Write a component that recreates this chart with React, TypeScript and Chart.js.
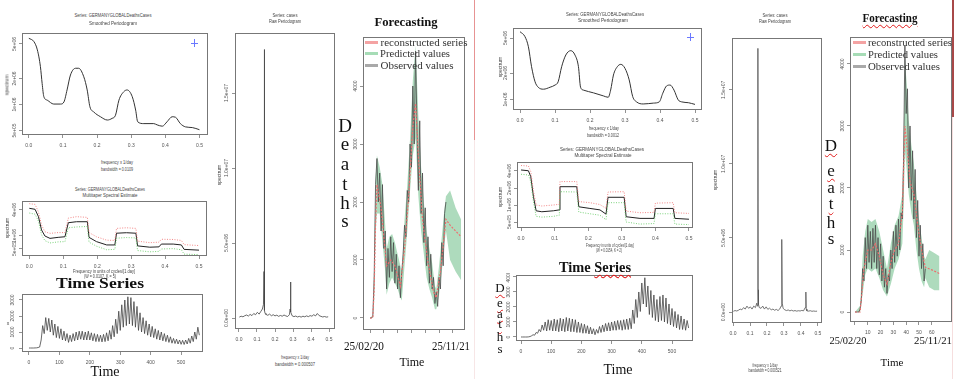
import React, { useEffect, useRef } from "react";
import { Chart, registerables } from "chart.js";
Chart.register(...registerables);

const SANS = '"Liberation Sans", Arial, sans-serif';
const SERIF = '"Liberation Serif", "Times New Roman", serif';

// ---------------- DATA ----------------
// Left smoothed periodogram
const freqA = [0, 0.015, 0.025, 0.034, 0.039, 0.044, 0.054, 0.073, 0.093, 0.103, 0.112, 0.122, 0.137, 0.146, 0.161, 0.171, 0.179, 0.19, 0.21, 0.23, 0.244, 0.254, 0.264, 0.278, 0.288, 0.303, 0.313, 0.319, 0.337, 0.366, 0.376, 0.391, 0.405, 0.42, 0.43, 0.444, 0.459, 0.479, 0.5];
const specA = [5.82e6, 5.32e6, 4.27e6, 2.73e6, 1.75e6, 1.23e6, 1.12e6, 1.01e6, 1.01e6, 1.07e6, 1.47e6, 2.19e6, 2.62e6, 2.62e6, 2.09e6, 1.47e6, 9.4e5, 8.2e5, 7.2e5, 6.6e5, 6.9e5, 7.5e5, 1.12e6, 1.4e6, 1.47e6, 1.23e6, 8.6e5, 6.3e5, 6.0e5, 6.0e5, 5.8e5, 5.6e5, 6.3e5, 7.2e5, 7.1e5, 6.0e5, 5.5e5, 5.4e5, 5.1e5];

// Right smoothed periodogram
const freqF = [0, 0.014, 0.024, 0.033, 0.043, 0.052, 0.067, 0.086, 0.1, 0.109, 0.119, 0.131, 0.145, 0.157, 0.167, 0.173, 0.181, 0.21, 0.238, 0.252, 0.259, 0.267, 0.278, 0.288, 0.3, 0.312, 0.322, 0.333, 0.352, 0.381, 0.398, 0.408, 0.419, 0.429, 0.44, 0.452, 0.462, 0.481, 0.5];
const specF = [5.9e6, 5.2e6, 3.98e6, 2.36e6, 1.59e6, 1.38e6, 1.31e6, 1.38e6, 1.46e6, 1.59e6, 2.36e6, 3.21e6, 3.59e6, 3.21e6, 2.36e6, 1.38e6, 1.28e6, 1.19e6, 1.1e6, 1.06e6, 1.28e6, 1.9e6, 2.36e6, 2.51e6, 2.26e6, 1.67e6, 1.08e6, 9.4e5, 8.9e5, 9.1e5, 9.4e5, 1.18e6, 1.43e6, 1.46e6, 1.28e6, 9.9e5, 9.4e5, 9.2e5, 8.8e5];

// Left multitaper
const freqB = [0, 0.017, 0.027, 0.036, 0.046, 0.061, 0.085, 0.105, 0.115, 0.139, 0.171, 0.176, 0.198, 0.228, 0.252, 0.257, 0.286, 0.314, 0.319, 0.355, 0.382, 0.389, 0.424, 0.448, 0.456, 0.5];
const mtmB = [4.38e6, 4.15e6, 2.8e6, 1.38e6, 1.0e6, 8.8e5, 9.3e5, 9.6e5, 2.03e6, 2.14e6, 2.14e6, 9.3e5, 7.4e5, 6.2e5, 6.2e5, 1.16e6, 1.19e6, 1.16e6, 5.9e5, 5.5e5, 5.6e5, 6.5e5, 6.5e5, 6.2e5, 4.9e5, 4.7e5];
const upB = [5.6e6, 5.4e6, 3.6e6, 1.8e6, 1.25e6, 1.15e6, 1.2e6, 1.2e6, 2.6e6, 2.8e6, 2.7e6, 1.2e6, 9.6e5, 8.0e5, 7.9e5, 1.5e6, 1.55e6, 1.5e6, 7.6e5, 7.0e5, 7.2e5, 8.4e5, 8.3e5, 7.9e5, 6.3e5, 6.0e5];
const loB = [3.4e6, 3.2e6, 2.2e6, 1.07e6, 7.8e5, 6.9e5, 7.3e5, 7.4e5, 1.55e6, 1.62e6, 1.66e6, 7.2e5, 5.8e5, 4.8e5, 4.9e5, 8.9e5, 9.2e5, 9.0e5, 4.6e5, 4.3e5, 4.4e5, 5.0e5, 5.1e5, 4.8e5, 3.8e5, 3.7e5];

// Right multitaper
const freqG = [0, 0.022, 0.029, 0.037, 0.045, 0.062, 0.096, 0.114, 0.116, 0.166, 0.172, 0.205, 0.235, 0.253, 0.259, 0.307, 0.313, 0.354, 0.396, 0.4, 0.453, 0.458, 0.5];
const mtmG = [4.17e6, 4.04e6, 3.17e6, 1.4e6, 7.9e5, 7.6e5, 7.9e5, 8.2e5, 2.11e6, 2.11e6, 9.3e5, 8.7e5, 8.2e5, 6.9e5, 1.37e6, 1.37e6, 6.2e5, 5.8e5, 5.8e5, 8.7e5, 8.7e5, 5.8e5, 5.6e5];
const upG = [5.0e6, 4.9e6, 3.9e6, 1.75e6, 1.0e6, 9.6e5, 1.0e6, 1.03e6, 2.6e6, 2.6e6, 1.15e6, 1.1e6, 1.02e6, 8.7e5, 1.7e6, 1.72e6, 7.8e5, 7.3e5, 7.4e5, 1.08e6, 1.1e6, 7.3e5, 7.1e5];
const loG = [3.5e6, 3.4e6, 2.6e6, 1.15e6, 6.3e5, 6.1e5, 6.3e5, 6.6e5, 1.72e6, 1.7e6, 7.5e5, 7.0e5, 6.6e5, 5.5e5, 1.1e6, 1.1e6, 5.0e5, 4.6e5, 4.7e5, 7.0e5, 7.0e5, 4.6e5, 4.5e5];

// Raw periodograms
const rawFreqL = [0.002, 0.012, 0.022, 0.032, 0.042, 0.052, 0.062, 0.072, 0.082, 0.092, 0.102, 0.112, 0.122, 0.13, 0.136, 0.139, 0.14, 0.141, 0.142, 0.143, 0.145, 0.15, 0.16, 0.17, 0.18, 0.19, 0.2, 0.21, 0.22, 0.23, 0.24, 0.25, 0.26, 0.27, 0.28, 0.284, 0.286, 0.288, 0.295, 0.305, 0.315, 0.325, 0.335, 0.345, 0.355, 0.365, 0.375, 0.385, 0.395, 0.405, 0.415, 0.425, 0.435, 0.445, 0.455, 0.465, 0.475, 0.485, 0.495];
const rawValL = [6e4, 1.2e5, 8e4, 1.5e5, 2e5, 1.3e5, 2.4e5, 1.6e5, 3e5, 2.2e5, 3.8e5, 2.6e5, 4.5e5, 6e5, 9e5, 3.1e6, 8e5, 1.79e7, 1.2e6, 5e5, 3e5, 2.4e5, 1.8e5, 2.6e5, 1.5e5, 2.2e5, 1.4e5, 1.9e5, 1.1e5, 1.7e5, 1.2e5, 2e5, 1.4e5, 1e5, 2.2e5, 6e5, 2.4e6, 4e5, 1.5e5, 9e4, 1.3e5, 7e4, 1.1e5, 6e4, 1.2e5, 8e4, 1.4e5, 9e4, 1.6e5, 1.2e5, 2.2e5, 1.4e5, 3e5, 1.6e5, 1.1e5, 7e4, 1e5, 6e4, 8e4];
const rawFreqR = [0.002, 0.012, 0.022, 0.032, 0.042, 0.052, 0.062, 0.072, 0.082, 0.092, 0.102, 0.112, 0.122, 0.132, 0.14, 0.144, 0.146, 0.147, 0.148, 0.15, 0.155, 0.165, 0.175, 0.185, 0.195, 0.205, 0.215, 0.225, 0.235, 0.245, 0.255, 0.265, 0.275, 0.283, 0.286, 0.288, 0.29, 0.295, 0.305, 0.315, 0.325, 0.335, 0.345, 0.355, 0.365, 0.375, 0.385, 0.395, 0.405, 0.415, 0.425, 0.429, 0.431, 0.435, 0.445, 0.455, 0.465, 0.475, 0.485, 0.495];
const rawValR = [5e4, 1e5, 7e4, 1.2e5, 2e5, 1.5e5, 3e5, 2e5, 4e5, 2.5e5, 3.5e5, 2e5, 4e5, 3e5, 6e5, 4e5, 1.2e6, 1.78e7, 1.5e6, 5e5, 3e5, 2.5e5, 4e5, 2e5, 3.5e5, 1.8e5, 2.6e5, 1.5e5, 2e5, 1.2e5, 1.8e5, 1e5, 2e5, 4e5, 2.2e6, 4.9e6, 6e5, 2.5e5, 1.5e5, 1e5, 1.4e5, 8e4, 1.2e5, 7e4, 1e5, 6e4, 9e4, 7e4, 1.1e5, 8e4, 3e5, 1.35e6, 2e5, 8e4, 6e4, 9e4, 5e4, 7e4, 5e4, 6e4];

// Daily time series, one value every 5 days
const TS_STEP = 5;
const tsL = [0, 0, 0, 0, 5, 10, 30, 60, 500, 1400, 900, 1900, 1100, 1850, 1000, 1750, 800, 1500, 650, 1350, 600, 1200, 500, 1050, 450, 900, 350, 800, 400, 900, 450, 1000, 500, 1050, 550, 1050, 500, 1000, 500, 1050, 500, 950, 450, 900, 400, 850, 400, 800, 380, 850, 400, 950, 450, 1100, 550, 1400, 700, 1800, 900, 2300, 1100, 2700, 1300, 3000, 1400, 3200, 1500, 3150, 1400, 2900, 1300, 2600, 1100, 2200, 1000, 1900, 900, 1700, 800, 1500, 700, 1350, 650, 1200, 550, 1100, 500, 1000, 450, 900, 400, 800, 350, 700, 300, 600, 280, 550, 250, 500, 230, 480, 220, 500, 250, 600, 300, 750, 400, 1000, 550, 1300, 800];
const tsR = [0, 0, 0, 0, 0, 10, 30, 80, 150, 120, 300, 250, 500, 350, 800, 450, 1000, 400, 1150, 450, 1100, 400, 1200, 400, 1150, 350, 1250, 400, 1200, 350, 1300, 400, 1250, 350, 1200, 350, 1150, 300, 1000, 300, 900, 250, 850, 250, 750, 200, 650, 200, 550, 150, 500, 250, 700, 300, 800, 350, 900, 400, 950, 400, 1000, 450, 1050, 450, 1100, 500, 1100, 450, 1150, 500, 1200, 500, 1250, 550, 1800, 900, 2500, 1300, 3000, 1700, 3600, 2200, 3950, 2000, 3400, 1500, 3100, 1300, 2800, 1100, 2500, 1000, 2700, 1100, 2800, 1000, 2600, 900, 2200, 800, 1900, 700, 1700, 600, 1500, 500, 1400, 500, 1200, 450, 1100, 600];

// Forecasting (left)
const obsL = [0, 0, 30, 700, 2300, 2750, 2000, 2500, 1500, 2300, 1200, 1500, 500, 1200, 700, 1400, 800, 1300, 600, 1100, 500, 900, 350, 800, 1100, 1600, 1400, 2200, 2000, 3000, 2600, 4000, 3000, 4600, 3300, 2200, 3400, 1800, 2500, 1300, 1900, 900, 1400, 600, 1100, 500, 700, 250, 450, 200, 700, 500, 1300, 900, 1800, 2000];
const recXL = [0, 2, 3, 4, 5, 8, 12, 15, 18, 22, 25, 28, 31, 33, 35, 38, 42, 46, 48, 51, 55, 58, 62, 66];
const recYL = [0, 0, 500, 1600, 2300, 1900, 900, 1000, 900, 550, 1200, 2100, 3300, 3700, 2800, 1700, 950, 450, 350, 800, 1700, 1600, 1500, 1400];
const predXL = [0, 2, 3, 4, 5, 7, 9, 11, 12, 14, 16, 18, 20, 22, 23, 25, 27, 29, 31, 33, 35, 37, 39, 41, 43, 45, 47, 48, 50, 52, 54, 55, 58, 62, 66];
const predHiL = [0, 50, 900, 2400, 2800, 2600, 2300, 1600, 1200, 1400, 1450, 1300, 1100, 900, 800, 1700, 2300, 3100, 4100, 4700, 3500, 2600, 2000, 1500, 1200, 950, 550, 500, 900, 1400, 1900, 2100, 2200, 1900, 1700];
const predLoL = [0, 0, 300, 1500, 1800, 1800, 1300, 800, 400, 600, 700, 600, 500, 350, 300, 900, 1500, 2200, 2800, 3100, 2100, 1500, 1100, 700, 500, 350, 150, 150, 400, 800, 1300, 1500, 1000, 800, 650];

// Forecasting (right)
const obsR = [0, 0, 0, 0, 50, 200, 700, 500, 1200, 700, 1400, 800, 1300, 700, 1350, 800, 1400, 700, 1200, 600, 1100, 500, 900, 400, 700, 300, 600, 500, 1000, 700, 1300, 800, 1400, 900, 1500, 1000, 1600, 1500, 2500, 4300, 3200, 3600, 2000, 3000, 1800, 2600, 1500, 2300, 1200, 1800, 900, 1400, 700, 1100, 500, 700];
const recXR = [0, 4, 7, 10, 13, 16, 19, 22, 25, 28, 31, 34, 37, 39, 41, 43, 46, 49, 52, 55, 60, 66];
const recYR = [0, 0, 700, 1000, 1000, 1100, 900, 600, 450, 800, 1000, 1100, 1600, 3000, 2600, 2100, 1900, 1400, 1000, 720, 680, 620];
const predXR = [0, 4, 6, 8, 10, 13, 16, 19, 22, 25, 28, 31, 34, 37, 38, 39, 40, 42, 44, 46, 48, 50, 52, 54, 55, 58, 62, 66];
const predHiR = [0, 100, 900, 1300, 1500, 1450, 1500, 1300, 1000, 700, 1100, 1400, 1550, 1900, 2800, 4100, 3800, 3100, 2700, 2400, 1900, 1500, 1200, 900, 850, 1000, 950, 900];
const predLoR = [0, 0, 300, 600, 700, 650, 700, 550, 350, 250, 450, 700, 850, 1100, 1700, 2600, 2400, 1900, 1600, 1400, 1000, 700, 500, 400, 550, 400, 350, 350];

// Ticks
const freqTicks = [0, 0.1, 0.2, 0.3, 0.4, 0.5];
const freqTickLabels = ["0.0", "0.1", "0.2", "0.3", "0.4", "0.5"];
const dayTicks = [0, 100, 200, 300, 400, 500];
const dayTickLabels = ["0", "100", "200", "300", "400", "500"];
const fcTicks = [0, 10, 20, 30, 40, 50, 60];
const fcTickLabelsR = ["", "10", "20", "30", "40", "50", "60"];
const deathTicks4 = [0, 1000, 2000, 3000, 4000];
const deathLabels4 = ["0", "1000", "2000", "3000", "4000"];
const deathTicks3 = [0, 1000, 2000, 3000];
const deathLabels3 = ["0", "1000", "2000", "3000"];
const rawTicks = [0, 5e6, 1e7, 1.5e7];
const rawLabels = ["0.0e+00", "5.0e+06", "1.0e+07", "1.5e+07"];
const smTicksA = [5e5, 1e6, 2e6, 5e6];
const smLabelsA = ["5e+05", "1e+06", "2e+06", "5e+06"];
const smTicksF = [1e6, 2e6, 5e6];
const smLabelsF = ["1e+06", "2e+06", "5e+06"];
const mtTicksB = [5e5, 1e6, 4e6];
const mtLabelsB = ["5e+05", "1e+06", "4e+06"];
const mtTicksG = [5e5, 1e6, 2e6, 4e6];
const mtLabelsG = ["5e+05", "1e+06", "2e+06", "4e+06"];

// ---------------- HELPERS ----------------
const pts = (xs: number[], ys: number[]) => xs.map((x, i) => ({ x, y: ys[i] }));
const idxPts = (ys: number[], step: number) => ys.map((y, i) => ({ x: i * step, y }));

const line = (data: any[], color: string, width = 1, extra: any = {}) => ({
  data,
  borderColor: color,
  borderWidth: width,
  pointRadius: 0,
  fill: false,
  tension: 0,
  ...extra,
});

const band = (hi: any[], lo: any[]) => [
  { data: hi, borderColor: "rgba(0,0,0,0)", borderWidth: 0, pointRadius: 0, fill: "+1", backgroundColor: "rgba(120,195,145,0.6)", order: 5 },
  { data: lo, borderColor: "rgba(0,0,0,0)", borderWidth: 0, pointRadius: 0, fill: false, order: 5 },
];

const YW = 16, XH = 16, TP = 2, RP = 4;

const boxPlugin = {
  id: "rbox",
  afterDraw(chart: any, _a: any, opts: any) {
    const { ctx, chartArea: a } = chart;
    ctx.save();
    ctx.strokeStyle = "#777";
    ctx.lineWidth = 1;
    ctx.strokeRect(Math.round(a.left) + 0.5, Math.round(a.top) + 0.5, Math.round(a.right - a.left) - 1, Math.round(a.bottom - a.top) - 1);
    const ys = chart.scales.y;
    const labels: string[] = opts.yLabels || [];
    ctx.fillStyle = "#555";
    ctx.font = `5px ${SANS}`;
    ctx.textAlign = "center";
    ctx.textBaseline = "bottom";
    ys.ticks.forEach((t: any, i: number) => {
      const py = ys.getPixelForValue(t.value);
      ctx.save();
      ctx.translate(a.left - (opts.yOff ?? 5), py);
      ctx.rotate(-Math.PI / 2);
      ctx.fillText(labels[i] ?? "", 0, 0);
      ctx.restore();
    });
    ctx.restore();
  },
};

type PanelDef = {
  box: [number, number, number, number];
  x: { min: number; max: number; ticks: number[]; labels: string[] | null };
  y: { type?: string; min: number; max: number; ticks: number[]; labels: string[] };
  yOff?: number;
  datasets: any[];
};

function ChartPanel({ def }: { def: PanelDef }) {
  const ref = useRef<HTMLCanvasElement | null>(null);
  const [l, t, r, b] = def.box;
  const W = r - l + YW + RP;
  const H = b - t + TP + XH;
  useEffect(() => {
    const xs = def.x, ys = def.y;
    const chart = new Chart(ref.current as HTMLCanvasElement, {
      type: "line",
      data: { datasets: def.datasets },
      options: {
        animation: false,
        responsive: false,
        devicePixelRatio: 1,
        events: [],
        layout: { padding: { left: 0, top: TP, right: RP, bottom: 0 } },
        plugins: {
          legend: { display: false },
          tooltip: { enabled: false },
          rbox: { yLabels: ys.labels, yOff: def.yOff ?? 5 },
        } as any,
        scales: {
          x: {
            type: "linear",
            position: "bottom",
            min: xs.min,
            max: xs.max,
            bounds: "data",
            afterBuildTicks: (s: any) => { s.ticks = xs.ticks.map((v) => ({ value: v })); },
            afterFit: (s: any) => { s.height = XH; s.paddingLeft = 0; s.paddingRight = 0; },
            ticks: {
              display: !!xs.labels,
              callback: (_v: any, i: number) => (xs.labels ? xs.labels[i] : ""),
              font: { family: SANS, size: 5 },
              color: "#555",
              padding: 5,
              autoSkip: false,
              maxRotation: 0,
              minRotation: 0,
            },
            grid: { drawOnChartArea: false, drawTicks: true, tickLength: 3, color: "#777", lineWidth: 0.8 },
            border: { display: false },
          } as any,
          y: {
            type: ys.type || "linear",
            position: "left",
            min: ys.min,
            max: ys.max,
            bounds: "data",
            afterBuildTicks: (s: any) => { s.ticks = ys.ticks.map((v) => ({ value: v })); },
            afterFit: (s: any) => { s.width = YW; s.paddingTop = 0; s.paddingBottom = 0; },
            ticks: { display: false },
            grid: { drawOnChartArea: false, drawTicks: true, tickLength: 3, color: "#777", lineWidth: 0.8 },
            border: { display: false },
          } as any,
        },
      },
      plugins: [boxPlugin as any],
    });
    return () => chart.destroy();
  }, []);
  return (
    <canvas
      ref={ref}
      width={W}
      height={H}
      style={{ position: "absolute", left: l - YW, top: t - TP, width: W, height: H }}
    />
  );
}

const mctx = typeof document !== "undefined" ? document.createElement("canvas").getContext("2d") : null;
const WAVY: any = {
  textDecorationLine: "underline",
  textDecorationStyle: "wavy",
  textDecorationColor: "#e01818",
  textDecorationThickness: "1px",
  textUnderlineOffset: "2px",
};

function T(p: { x: number; y: number; s: string; size?: number; fam?: string; bold?: boolean; w?: number; rot?: boolean; color?: string; wavy?: "all" | "last" }) {
  const size = p.size ?? 5;
  const fam = p.fam ?? SANS;
  const font = `${p.bold ? "bold " : ""}${size}px ${fam}`;
  let sx = 1;
  if (p.w && mctx) {
    mctx.font = font;
    const m = mctx.measureText(p.s).width;
    if (m > 0) sx = p.w / m;
  }
  let content: any = p.s;
  if (p.wavy === "all") content = <span style={WAVY}>{p.s}</span>;
  if (p.wavy === "last") {
    const k = p.s.lastIndexOf(" ");
    content = (
      <>
        {p.s.slice(0, k + 1)}
        <span style={WAVY}>{p.s.slice(k + 1)}</span>
      </>
    );
  }
  return (
    <div
      style={{
        position: "absolute",
        left: p.x,
        top: p.y,
        transform: `translate(-50%,-50%)${p.rot ? " rotate(-90deg)" : ""} scaleX(${sx})`,
        font,
        lineHeight: 1,
        whiteSpace: "nowrap",
        color: p.color ?? "#444",
      }}
    >
      {content}
    </div>
  );
}

function Bar(p: { l: number; t: number; w: number; h: number; c: string }) {
  return <div style={{ position: "absolute", left: p.l, top: p.t, width: p.w, height: p.h, background: p.c }} />;
}

function Legend({ lx, tx, ys, widths }: { lx: number; tx: number; ys: number[]; widths: number[] }) {
  const names = ["reconstructed series", "Predicted values", "Observed values"];
  const cols = ["#f4a3a3", "#a6dcb6", "#a9a9a9"];
  return (
    <>
      {names.map((n, i) => (
        <React.Fragment key={n}>
          <Bar l={lx} t={ys[i] - 1.5} w={13} h={3} c={cols[i]} />
          <T x={tx + widths[i] / 2} y={ys[i]} s={n} size={11} fam={SERIF} w={widths[i]} color="#333" />
        </React.Fragment>
      ))}
    </>
  );
}

function Deaths({ x, ys, size, wavy }: { x: number; ys: number[]; size: number; wavy: boolean[] }) {
  const letters = "Deaths".split("");
  return (
    <>
      {letters.map((c, i) => (
        <T key={i} x={x} y={ys[i]} s={c} size={size} fam={SERIF} color="#111" wavy={wavy[i] ? "all" : undefined} />
      ))}
    </>
  );
}

// ---------------- PANELS ----------------
const panels: PanelDef[] = [
  {
    box: [22, 33, 208, 135],
    x: { min: -0.02, max: 0.525, ticks: freqTicks, labels: freqTickLabels },
    y: { type: "logarithmic", min: 4.43e5, max: 6.7e6, ticks: smTicksA, labels: smLabelsA },
    datasets: [line(pts(freqA, specA), "#333", 1, { cubicInterpolationMode: "monotone" })],
  },
  {
    box: [22, 201, 207, 256],
    x: { min: -0.0215, max: 0.5235, ticks: freqTicks, labels: freqTickLabels },
    y: { type: "logarithmic", min: 3.44e5, max: 6.46e6, ticks: mtTicksB, labels: mtLabelsB },
    datasets: [
      line(pts(freqB, upB), "#f06a6a", 0.8, { borderDash: [1, 1.5] }),
      line(pts(freqB, loB), "#5cc85c", 0.8, { borderDash: [1, 1.5] }),
      line(pts(freqB, mtmB), "#222", 1),
    ],
  },
  {
    box: [22, 294, 203, 352],
    x: { min: -23, max: 572, ticks: dayTicks, labels: dayTickLabels },
    y: { min: -250, max: 3375, ticks: deathTicks3, labels: deathLabels3 },
    yOff: 7,
    datasets: [line(idxPts(tsL, TS_STEP), "#444", 0.8)],
  },
  {
    box: [235, 33, 335, 329],
    x: { min: -0.022, max: 0.533, ticks: freqTicks, labels: freqTickLabels },
    y: { min: -7.33e5, max: 1.9e7, ticks: rawTicks, labels: rawLabels },
    yOff: 6,
    datasets: [line(pts(rawFreqL, rawValL), "#444", 0.8)],
  },
  {
    box: [363, 37, 465, 330],
    x: { min: -5.1, max: 68.8, ticks: fcTicks, labels: null },
    y: { min: -207, max: 4845, ticks: deathTicks4, labels: deathLabels4 },
    yOff: 5,
    datasets: [
      ...band(pts(predXL, predHiL), pts(predXL, predLoL)),
      line(idxPts(obsL, 1), "#4a4a4a", 0.8, { order: 3 }),
      line(pts(recXL, recYL), "#ee6e6e", 1.2, { borderDash: [2, 1.5], order: 1 }),
    ],
  },
  {
    box: [513, 28, 702, 110],
    x: { min: -0.02, max: 0.52, ticks: freqTicks, labels: freqTickLabels },
    y: { type: "logarithmic", min: 7.6e5, max: 6.5e6, ticks: smTicksF, labels: smLabelsF },
    datasets: [line(pts(freqF, specF), "#333", 1, { cubicInterpolationMode: "monotone" })],
  },
  {
    box: [517, 162, 693, 228],
    x: { min: -0.012, max: 0.512, ticks: freqTicks, labels: freqTickLabels },
    y: { type: "logarithmic", min: 3.92e5, max: 5.77e6, ticks: mtTicksG, labels: mtLabelsG },
    datasets: [
      line(pts(freqG, upG), "#f06a6a", 0.8, { borderDash: [1, 1.5] }),
      line(pts(freqG, loG), "#5cc85c", 0.8, { borderDash: [1, 1.5] }),
      line(pts(freqG, mtmG), "#222", 1),
    ],
  },
  {
    box: [516, 275, 693, 341],
    x: { min: -16.6, max: 569.5, ticks: dayTicks, labels: dayTickLabels },
    y: { min: -267, max: 4133, ticks: deathTicks4, labels: deathLabels4 },
    yOff: 5,
    datasets: [line(idxPts(tsR, TS_STEP), "#444", 0.8)],
  },
  {
    box: [732, 38, 822, 323],
    x: { min: -0.006, max: 0.524, ticks: freqTicks, labels: freqTickLabels },
    y: { min: -7.4e5, max: 1.85e7, ticks: rawTicks, labels: rawLabels },
    yOff: 6,
    datasets: [line(pts(rawFreqR, rawValR), "#555", 0.8)],
  },
  {
    box: [850, 37, 952, 322],
    x: { min: -3.9, max: 75.8, ticks: fcTicks, labels: fcTickLabelsR },
    y: { min: -161, max: 4435, ticks: deathTicks4, labels: deathLabels4 },
    yOff: 5,
    datasets: [
      ...band(pts(predXR, predHiR), pts(predXR, predLoR)),
      line(idxPts(obsR, 1), "#4a4a4a", 0.8, { order: 3 }),
      line(pts(recXR, recYR), "#ee6e6e", 1.2, { borderDash: [2, 1.5], order: 1 }),
    ],
  },
];

export default function App() {
  return (
    <div style={{ position: "fixed", left: 0, top: 0, width: 956, height: 379, background: "#fff", overflow: "hidden" }}>
      {panels.map((p, i) => (
        <ChartPanel key={i} def={p} />
      ))}

      {/* separators */}
      <Bar l={474} t={0} w={1} h={140} c="rgba(225,120,120,0.8)" />
      <Bar l={474} t={140} w={1} h={239} c="rgba(240,205,205,0.5)" />
      <Bar l={952} t={0} w={2} h={117} c="#a84848" />
      <Bar l={952} t={117} w={1} h={262} c="rgba(240,200,200,0.6)" />

      {/* blue crosses */}
      <Bar l={191} t={43} w={7} h={1} c="#6a78ff" />
      <Bar l={194} t={39} w={1} h={8} c="#6a78ff" />
      <Bar l={687} t={37} w={7} h={1} c="#6a78ff" />
      <Bar l={690} t={33} w={1} h={8} c="#6a78ff" />

      {/* Panel A texts */}
      <T x={113} y={15} s="Series: GERMANYGLOBALDeathsCases" w={77} />
      <T x={113} y={23} s="Smoothed Periodogram" w={48} />
      <T x={117} y={162} s="frequency x 1/day" w={32} />
      <T x={117} y={169} s="bandwidth = 0.0109" w={32} />
      <T x={7} y={85} s="spectrum" rot />

      {/* Panel B texts */}
      <T x={110} y={189} s="Series: GERMANYGLOBALDeathsCases" w={70} />
      <T x={110} y={195} s="Multitaper Spectral Estimate" w={55} />
      <T x={104} y={271} s="Frequency in units of cycles/[1 day]" w={62} />
      <T x={100} y={276} s="(W = 0.0107, K = 5)" w={32} />
      <T x={7} y={228} s="spectrum" rot />

      {/* Panel C texts */}
      <T x={100} y={284} s="Time Series" size={14} fam={SERIF} bold w={88} color="#111" />
      <T x={8} y={323} s="x" size={5} />
      <T x={105} y={372} s="Time" size={14} fam={SERIF} color="#111" />

      {/* Panel D texts */}
      <T x={285} y={15} s="Series: cases" w={25} />
      <T x={285} y={21} s="Raw Periodogram" w={32} />
      <T x={295} y={357} s="frequency x 1/day" w={28} />
      <T x={295} y={364} s="bandwidth = 0.000507" w={40} />
      <T x={219} y={175} s="spectrum" rot />

      {/* Panel E texts */}
      <T x={406} y={22} s="Forecasting" size={12} fam={SERIF} bold w={63} color="#111" />
      <Legend lx={365} tx={380} ys={[42, 53, 65]} widths={[87, 70, 73]} />
      <Deaths x={345} ys={[125, 143, 163, 183, 202, 220]} size={19} wavy={[false, false, false, false, false, false]} />
      <T x={364} y={346} s="25/02/20" size={12} fam={SERIF} w={40} color="#111" />
      <T x={451} y={346} s="25/11/21" size={12} fam={SERIF} w={38} color="#111" />
      <T x={412} y={362} s="Time" size={12} fam={SERIF} color="#111" />

      {/* Panel F texts */}
      <T x={605} y={14} s="Series: GERMANYGLOBALDeathsCases" w={78} />
      <T x={603} y={20} s="Smoothed Periodogram" w={50} />
      <T x={604} y={128} s="frequency x 1/day" w={30} />
      <T x={603} y={135} s="bandwidth = 0.0012" w={32} />
      <T x={500} y={67} s="spectrum" rot />

      {/* Panel G texts */}
      <T x={602} y={149} s="Series: GERMANYGLOBALDeathsCases" w={84} />
      <T x={603} y={155} s="Multitaper Spectral Estimate" w={57} />
      <T x={610} y={245} s="Frequency in units of cycles/[1 day]" w={48} />
      <T x={609} y={250} s="(W = 0.0154, K = 2)" w={26} />
      <T x={500} y={197} s="spectrum" rot />

      {/* Panel H texts */}
      <T x={595} y={268} s="Time Series" size={14} fam={SERIF} bold w={72} color="#111" wavy="last" />
      <Deaths x={500} ys={[287, 302, 313, 323, 336, 348]} size={13} wavy={[true, true, true, true, false, false]} />
      <T x={618} y={370} s="Time" size={14} fam={SERIF} color="#111" />

      {/* Panel I texts */}
      <T x={775} y={15} s="Series: cases" w={25} />
      <T x={775} y={21} s="Raw Periodogram" w={32} />
      <T x={765} y={365} s="frequency x 1/day" w={25} />
      <T x={765} y={370} s="bandwidth = 0.000521" w={33} />
      <T x={715} y={180} s="spectrum" rot />

      {/* Panel J texts */}
      <T x={890} y={18} s="Forecasting" size={12} fam={SERIF} bold w={55} color="#111" wavy="all" />
      <Legend lx={853} tx={868} ys={[42, 54, 66]} widths={[84, 70, 72]} />
      <Deaths x={831} ys={[145, 170, 187, 203, 222, 238]} size={17} wavy={[true, true, false, true, false, false]} />
      <T x={848} y={340} s="25/02/20" size={11} fam={SERIF} w={37} color="#111" />
      <T x={933} y={340} s="25/11/21" size={11} fam={SERIF} w={38} color="#111" />
      <T x={892} y={362} s="Time" size={11} fam={SERIF} color="#111" />
    </div>
  );
}
